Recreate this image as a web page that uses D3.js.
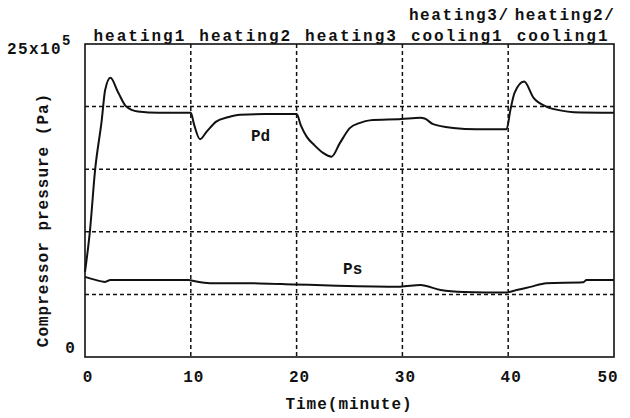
<!DOCTYPE html>
<html>
<head>
<meta charset="utf-8">
<script src="https://cdn.jsdelivr.net/npm/d3@7"></script>
<style>
  body { margin: 0; background: #fff; }
  text { font-family: "Liberation Mono", "DejaVu Sans Mono", monospace; font-weight: bold; fill: #111; }
</style>
</head>
<body>
<div class="main"></div>
<script>
// time (minute) / pressure (x10^5 Pa)
let pdTime = [0, 0.47, 0.95, 1.58, 1.9, 2.4, 3.15, 3.9, 5, 7, 10, 10.3, 10.87, 11.5, 12.4, 13.5, 14.65, 17, 20,
  20.4, 20.95, 21.7, 22.5, 23.3, 24.1, 25.05, 26, 26.9, 29.9, 31.7, 32.1, 32.9, 34.8, 37, 39.85,
  40.2, 40.6, 41.5, 42.4, 43.6, 44.9, 46.2, 50];
let pdValue = [6.8, 10.1, 14.9, 18.9, 21.3, 22.3, 21.1, 20.0, 19.6, 19.5, 19.5, 18.6, 17.4, 18.0, 18.8, 19.15, 19.35, 19.4, 19.4,
  18.5, 17.6, 16.9, 16.3, 16.0, 17.1, 18.3, 18.7, 18.9, 19.0, 19.1, 19.05, 18.6, 18.3, 18.2, 18.2,
  19.7, 21.1, 22.0, 20.7, 20.0, 19.7, 19.55, 19.5];

let psTime = [0, 0.8, 1.9, 2.4, 9.8, 10.4, 11.8, 16.5, 19.7, 23.8, 29.8, 31.7, 33.6, 35.8, 39.85, 40.8, 42.1, 43.6, 47.1, 47.4, 50];
let psValue = [6.4, 6.2, 6.0, 6.15, 6.15, 6.05, 5.9, 5.88, 5.8, 5.7, 5.62, 5.75, 5.35, 5.2, 5.16, 5.35, 5.6, 5.9, 5.97, 6.15, 6.15];

let xTicks = [0, 10, 20, 30, 40, 50];
let yGrid = [5, 10, 15, 20];
let phaseTop = ['', '', '', 'heating3/', 'heating2/'];
let phaseBottom = ['heating1', 'heating2', 'heating3', 'cooling1', 'cooling1'];

let opts = {
  width: 630,
  height: 418,
  left: 85,
  right: 614,
  top: 44,
  bottom: 357
};

let svg = d3.select('.main').append('svg')
  .attr('width', opts.width)
  .attr('height', opts.height);

let x = d3.scaleLinear().domain([0, 50]).range([opts.left, opts.right]);
let y = d3.scaleLinear().domain([0, 25]).range([opts.bottom, opts.top]);

// dashed grid
svg.selectAll('.vgrid').data(xTicks.slice(1, -1)).enter().append('line')
  .attr('class', 'vgrid')
  .attr('x1', d => x(d)).attr('x2', d => x(d))
  .attr('y1', opts.top).attr('y2', opts.bottom)
  .attr('stroke', '#111').attr('stroke-width', 1.5).attr('stroke-dasharray', '4,3');

svg.selectAll('.hgrid').data(yGrid).enter().append('line')
  .attr('class', 'hgrid')
  .attr('x1', opts.left).attr('x2', opts.right)
  .attr('y1', d => y(d)).attr('y2', d => y(d))
  .attr('stroke', '#111').attr('stroke-width', 1.5).attr('stroke-dasharray', '4,3');

// frame
svg.append('rect')
  .attr('x', opts.left).attr('y', opts.top)
  .attr('width', opts.right - opts.left).attr('height', opts.bottom - opts.top)
  .attr('fill', 'none').attr('stroke', '#111').attr('stroke-width', 1.6);

let line = d3.line()
  .x(d => x(d[0]))
  .y(d => y(d[1]))
  .curve(d3.curveMonotoneX);

svg.append('path')
  .datum(d3.zip(pdTime, pdValue))
  .attr('d', line)
  .attr('fill', 'none').attr('stroke', '#111').attr('stroke-width', 2);

svg.append('path')
  .datum(d3.zip(psTime, psValue))
  .attr('d', line)
  .attr('fill', 'none').attr('stroke', '#111').attr('stroke-width', 2);

// x tick labels
svg.selectAll('.xlab').data(xTicks).enter().append('text')
  .attr('x', d => x(d) + (d === 50 ? -6 : 3))
  .attr('y', 382)
  .attr('text-anchor', 'middle')
  .attr('font-size', 16)
  .attr('letter-spacing', 1)
  .text(d => d);

svg.append('text')
  .attr('x', 349).attr('y', 409)
  .attr('text-anchor', 'middle')
  .attr('font-size', 16)
  .attr('letter-spacing', 1)
  .text('Time(minute)');

// y labels
svg.append('text').attr('x', 70).attr('y', 353)
  .attr('text-anchor', 'middle').attr('font-size', 16).text('0');

let yMax = svg.append('text').attr('x', 7).attr('y', 54).attr('font-size', 16).attr('letter-spacing', 1.4);
yMax.append('tspan').text('25x10');
yMax.append('tspan').attr('dy', -9).attr('font-size', 14).text('5');

svg.append('text')
  .attr('transform', 'translate(48,220) rotate(-90)')
  .attr('text-anchor', 'middle')
  .attr('font-size', 16)
  .attr('letter-spacing', 1)
  .text('Compressor pressure (Pa)');

// phase labels
let mids = xTicks.slice(0, -1).map(d => d + 5);
svg.selectAll('.phase2').data(mids).enter().append('text')
  .attr('x', d => x(d) + 2)
  .attr('y', 41)
  .attr('text-anchor', 'middle')
  .attr('font-size', 16)
  .attr('letter-spacing', 2)
  .text((d, i) => phaseBottom[i]);

svg.selectAll('.phase1').data(mids).enter().append('text')
  .attr('x', d => x(d) + 4)
  .attr('y', 20)
  .attr('text-anchor', 'middle')
  .attr('font-size', 16)
  .attr('letter-spacing', 1.6)
  .text((d, i) => phaseTop[i]);

// curve names
svg.append('text').attr('x', x(16.6)).attr('y', 141)
  .attr('text-anchor', 'middle').attr('font-size', 16).text('Pd');
svg.append('text').attr('x', x(25.3)).attr('y', 274)
  .attr('text-anchor', 'middle').attr('font-size', 16).text('Ps');
</script>
</body>
</html>
